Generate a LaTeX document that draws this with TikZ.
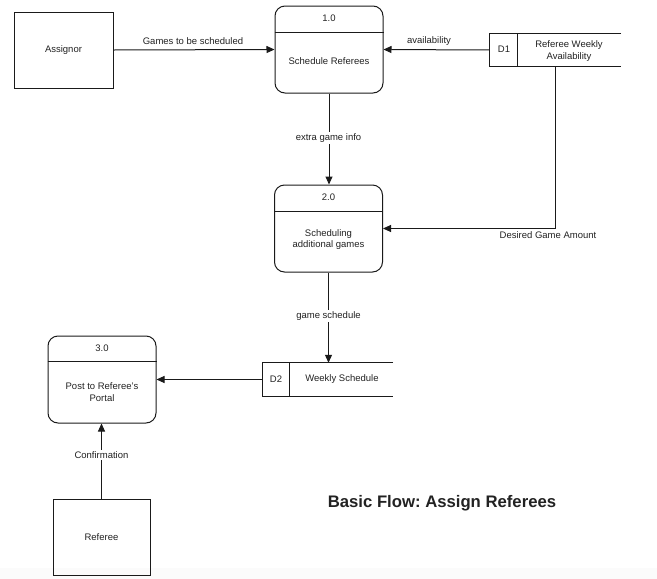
\documentclass[tikz,border=0pt]{standalone}
\usepackage{fontspec}
\setmainfont{Liberation Sans}
\usetikzlibrary{arrows.meta}
\frenchspacing
\definecolor{ink}{HTML}{1A1A1A}
\definecolor{txt}{HTML}{222222}
\definecolor{strip}{HTML}{FBFBFB}
\tikzset{
  lbl/.style={font=\fontsize{9.5}{11.5}\selectfont, text=txt, inner sep=1pt, align=center},
  onlbl/.style={lbl, fill=white, inner sep=2pt},
  proc/.style={draw=ink, line width=1pt, rounded corners=10pt, minimum width=108pt, minimum height=87pt, inner sep=0pt},
  entity/.style={draw=ink, line width=1pt, minimum height=76pt, inner sep=0pt},
  storebox/.style={minimum height=32pt, inner sep=0pt},
  storeline/.style={draw=ink, line width=1pt},
  flow/.style={draw=ink, line width=1pt, -{Triangle[length=8pt,width=7pt]}},
}
\begin{document}
\begin{tikzpicture}[x=1pt,y=-1pt]
\useasboundingbox (0,0) rectangle (657,579);
\fill[strip] (0,568) rectangle (657,579);

% external entities
\node[entity, minimum width=99pt] (assignor) at (63.5,50) {};
\node[lbl] (assignorT) at (assignor.center) {Assignor};
\node[entity, minimum width=97pt] (referee) at (101.5,537) {};
\node[lbl] (refereeT) at (referee.center) {Referee};

% processes
\node[proc] (p1) at (329,49.5) {};
\draw[storeline] ([yshift=-27pt]p1.north west) -- ([yshift=-27pt]p1.north east);
\node[lbl] (p1n) at (329,18) {1.0};
\node[lbl] (p1t) at (329,61) {Schedule Referees};

\node[proc] (p2) at (328.5,228.5) {};
\draw[storeline] ([yshift=-27pt]p2.north west) -- ([yshift=-27pt]p2.north east);
\node[lbl] (p2n) at (328.5,197) {2.0};
\node[lbl] (p2t) at (328.5,239.5) {Scheduling\\additional games};

\node[proc] (p3) at (102,379.5) {};
\draw[storeline] ([yshift=-26pt]p3.north west) -- ([yshift=-26pt]p3.north east);
\node[lbl] (p3n) at (102,348) {3.0};
\node[lbl] (p3t) at (102,392) {Post to Referee's\\Portal};

% data stores
\node[storebox, minimum width=131pt] (d1) at (555.5,50) {};
\draw[storeline] (d1.north east) -- (d1.north west) -- (d1.south west) -- (d1.south east);
\draw[storeline] (517,34) -- (517,66);
\node[lbl] (d1n) at (504,49.5) {D1};
\node[lbl] (d1t) at (569,51) {Referee Weekly\\Availability};

\node[storebox, minimum width=130pt, minimum height=33pt] (d2) at (328,379.5) {};
\draw[storeline] (d2.north east) -- (d2.north west) -- (d2.south west) -- (d2.south east);
\draw[storeline] (289,363) -- (289,396);
\node[lbl] (d2n) at (276,379.5) {D2};
\node[lbl] (d2t) at (342,379.5) {Weekly Schedule};

% flows
\draw[flow] (assignor.east) -- (p1.west);
\node[lbl] (l1) at (193,41) {Games to be scheduled};

\draw[flow] (d1.west) -- (p1.east);
\node[lbl] (l2) at (429,41) {availability};

\draw[flow] (p1.south) -- (p1.south |- p2.north);
\node[onlbl] (l3) at (328.5,138) {extra game info};

\draw[flow] (d1.south) |- (p2.east);
\node[lbl] (l4) at (548,235.5) {Desired Game Amount};

\draw[flow] (p2.south) -- (p2.south |- d2.north);
\node[onlbl] (l5) at (328.5,316) {game schedule};

\draw[flow] (d2.west) -- (p3.east);

\draw[flow] (referee.north) -- (referee.north |- p3.south);
\node[onlbl] (l6) at (101.5,455) {Confirmation};

% title
\node[font=\fontsize{16.7}{20}\selectfont\bfseries, text=txt, inner sep=0pt] (title) at (442,503) {Basic Flow: Assign Referees};
\end{tikzpicture}
\end{document}
